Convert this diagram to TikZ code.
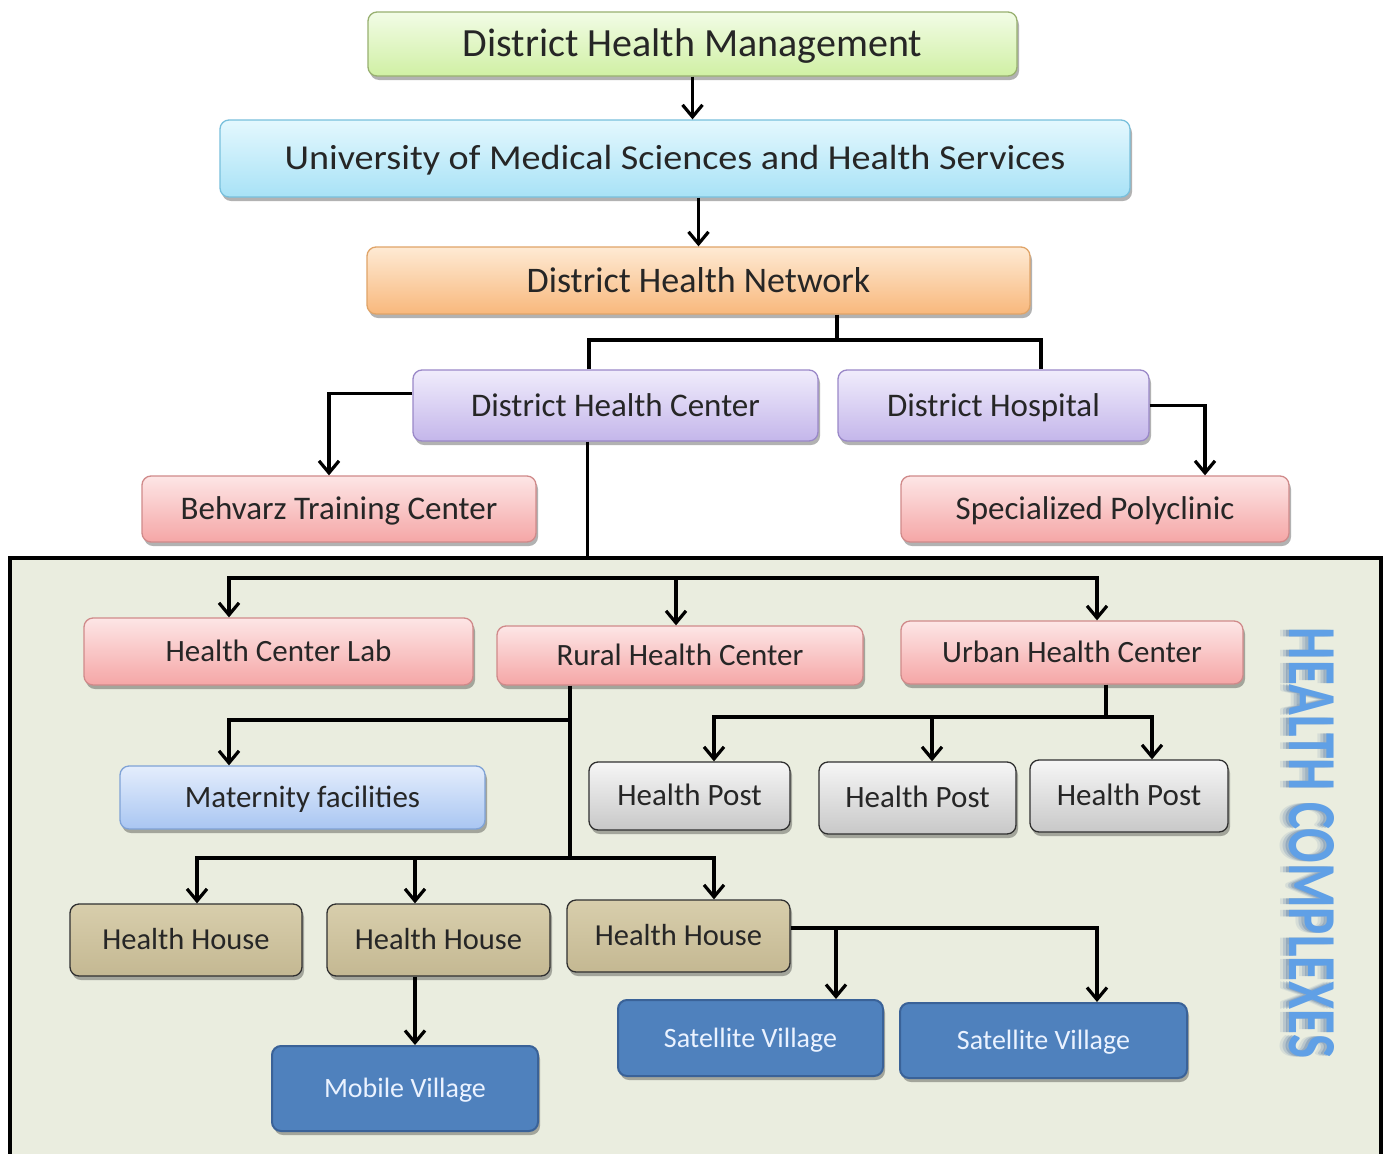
\documentclass[tikz,border=0pt]{standalone}
\usepackage{fontspec}
\setmainfont{Carlito}
\usetikzlibrary{arrows.meta,shadows,calc}

\definecolor{txt}{HTML}{262626}
\definecolor{framefill}{HTML}{EAEDDF}
\newcommand\fsz[1]{\fontsize{#1}{#1}\selectfont}

\begin{document}
\begin{tikzpicture}[x=1pt,y=-1pt,
  box/.style={rounded corners=9pt, line width=1.3pt, inner sep=2pt, text=txt,
    drop shadow={shadow xshift=2pt, shadow yshift=-4pt, opacity=0.3, fill=black}},
  fs/.style={font=\fsz{#1}, text height=\dimexpr #1pt*644/1000\relax, text depth=0pt},
  greenbox/.style={box, draw={rgb,255:red,152;green,176;blue,112}, top color={rgb,255:red,242;green,252;blue,230}, bottom color={rgb,255:red,208;green,240;blue,164}},
  cyanbox/.style={box, draw={rgb,255:red,120;green,192;blue,220}, top color={rgb,255:red,228;green,248;blue,254}, bottom color={rgb,255:red,168;green,226;blue,246}},
  orangebox/.style={box, draw={rgb,255:red,224;green,164;blue,104}, top color={rgb,255:red,254;green,234;blue,212}, bottom color={rgb,255:red,248;green,184;blue,124}},
  lavbox/.style={box, draw={rgb,255:red,154;green,136;blue,200}, top color={rgb,255:red,240;green,236;blue,252}, bottom color={rgb,255:red,196;green,182;blue,234}},
  pinkbox/.style={box, draw={rgb,255:red,208;green,138;blue,138}, top color={rgb,255:red,253;green,230;blue,230}, bottom color={rgb,255:red,245;green,166;blue,166}},
  lbluebox/.style={box, draw={rgb,255:red,127;green,162;blue,214}, top color={rgb,255:red,228;green,237;blue,252}, bottom color={rgb,255:red,169;green,198;blue,242}},
  graybox/.style={box, draw={rgb,255:red,48;green,48;blue,48}, top color={rgb,255:red,246;green,246;blue,246}, bottom color={rgb,255:red,200;green,200;blue,200}},
  tanbox/.style={box, draw={rgb,255:red,48;green,48;blue,48}, top color={rgb,255:red,216;green,206;blue,172}, bottom color={rgb,255:red,196;green,184;blue,146}},
  dbluebox/.style={box, line width=2pt, draw={rgb,255:red,58;green,98;blue,152}, fill={rgb,255:red,79;green,129;blue,189}, text={rgb,255:red,234;green,242;blue,255}},
  link/.style={line width=3.2pt, draw=black},
  arr/.style={link, -{Straight Barb[length=12pt,width=20pt]}},
  frame/.style={draw=black, line width=4.5pt, fill=framefill, inner sep=0pt},
]
\fill[white] (0,0) rectangle (1390,1154);
\clip (0,0) rectangle (1390,1154);

% ---------- upper levels ----------
\node[greenbox, minimum width=649pt, minimum height=64pt, fs=40] (dhm) at (692.5,44) {District Health Management};
\node[cyanbox, minimum width=910pt, minimum height=77pt, fs=35] (ums) at (675,158.5) {\scalebox{1.09}[1]{University of Medical Sciences and Health Services}};
\node[orangebox, minimum width=663pt, minimum height=67pt, fs=36] (dhn) at (698.5,280.5) {District Health Network};
\node[lavbox, minimum width=405pt, minimum height=71pt, fs=33] (dhc) at (615.5,405.5) {District Health Center};
\node[lavbox, minimum width=311pt, minimum height=71pt, fs=33] (dh) at (993.5,405.5) {District Hospital};
\node[pinkbox, minimum width=394pt, minimum height=66pt, fs=33] (btc) at (339,509) {Behvarz Training Center};
\node[pinkbox, minimum width=388pt, minimum height=66pt, fs=33] (sp) at (1095,509) {Specialized Polyclinic};

% ---------- health complexes frame ----------
\node[frame, minimum width=1371pt, minimum height=610pt] (frame) at (695.5,863) {};

\node[pinkbox, minimum width=389pt, minimum height=67pt, fs=31] (hcl) at (278.5,651.5) {Health Center Lab};
\node[pinkbox, minimum width=366pt, minimum height=59pt, fs=31] (rhc) at (680,655.5) {Rural Health Center};
\node[pinkbox, minimum width=342pt, minimum height=63pt, fs=31] (uhc) at (1072,652.5) {Urban Health Center};
\node[lbluebox, minimum width=365pt, minimum height=63pt, fs=31] (mf) at (302.5,797.5) {Maternity facilities};
\node[graybox, minimum width=201pt, minimum height=68pt, fs=31] (hp1) at (689.5,796) {Health Post};
\node[graybox, minimum width=197pt, minimum height=72pt, fs=31] (hp2) at (917.5,798) {Health Post};
\node[graybox, minimum width=198pt, minimum height=72pt, fs=31] (hp3) at (1129,796) {Health Post};
\node[tanbox, minimum width=232pt, minimum height=72pt, fs=30.5] (hh1) at (186,940) {Health House};
\node[tanbox, minimum width=223pt, minimum height=72pt, fs=30.5] (hh2) at (438.5,940) {Health House};
\node[tanbox, minimum width=223pt, minimum height=72pt, fs=30.5] (hh3) at (678.5,936) {Health House};
\node[dbluebox, minimum width=266pt, minimum height=85pt, fs=28] (mv) at (405,1088.5) {Mobile Village};
\node[dbluebox, minimum width=265pt, minimum height=76pt, fs=28] (sv1) at (750.5,1038) {Satellite Village};
\node[dbluebox, minimum width=287pt, minimum height=75pt, fs=28] (sv2) at (1043.5,1040.5) {Satellite Village};

% vertical caption with a soft shadow
\foreach \dx/\op in {-9/0.12,-6/0.2,-3/0.3}
  \node[rotate=-90, text={rgb,255:red,70;green,110;blue,160}, opacity=\op, inner sep=0pt] at (1312+\dx,843)
    {\resizebox{430pt}{45pt}{\bfseries HEALTH COMPLEXES}};
\node[rotate=-90, text={rgb,255:red,96;green,160;blue,230}, inner sep=0pt] (cap) at (1312,843)
  {\resizebox{430pt}{45pt}{\bfseries HEALTH COMPLEXES}};

% ---------- helper points ----------
\coordinate (j1) at (837,340);
\coordinate (cA) at (589,0);
\coordinate (cB) at (1041,0);
\coordinate (bus) at (676,578);
\coordinate (r1) at (570,720);
\coordinate (r2) at (570,858);
\coordinate (u1) at (1106,717);
\coordinate (h3) at ([yshift=8pt]hh3.east);
\coordinate (sv1a) at ([xshift=85.5pt]sv1.north);
\coordinate (hp2a) at ([xshift=14.5pt]hp2.north);

% ---------- connectors ----------
\draw[arr] (dhm.south) -- (dhm.south |- ums.north);
\draw[arr] (dhn.north |- ums.south) -- (dhn.north);
\draw[link] (dhn.south -| j1) -- (j1);
\draw[link] (dhc.north -| cA) |- (j1) -| (dh.north -| cB);
\draw[arr] ([yshift=12pt]dhc.west) -| ([xshift=-10pt]btc.north);
\draw[arr] (dh.east) -| ([xshift=110pt]sp.north);
\draw[link] ([xshift=-28pt]dhc.south) -- ([xshift=-28pt]dhc.south |- frame.north);

\draw[arr] (bus) -| ([xshift=-49.5pt]hcl.north);
\draw[arr] (bus) -| ([xshift=25pt]uhc.north);
\draw[arr] (bus) -- (bus |- rhc.north);

\draw[link] (rhc.south -| r2) -- (r2);
\draw[arr] (r1) -| ([xshift=-73.5pt]mf.north);
\draw[arr] (r2) -| ([xshift=11pt]hh1.north);
\draw[arr] (r2) -| ([xshift=-23.5pt]hh2.north);
\draw[arr] (r2) -| ([xshift=35.5pt]hh3.north);

\draw[link] (uhc.south -| u1) -- (u1);
\draw[arr] (u1) -| ([xshift=24.5pt]hp1.north);
\draw[arr] (u1) -| ([xshift=23pt]hp3.north);
\draw[arr] (u1 -| hp2a) -- (hp2a);

\draw[arr] ([xshift=-23.5pt]hh2.south) -- ([xshift=-23.5pt]hh2.south |- mv.north);

\draw[arr] (h3) -| ([xshift=53.5pt]sv2.north);
\draw[arr] (h3 -| sv1a) -- (sv1a);
\end{tikzpicture}
\end{document}
